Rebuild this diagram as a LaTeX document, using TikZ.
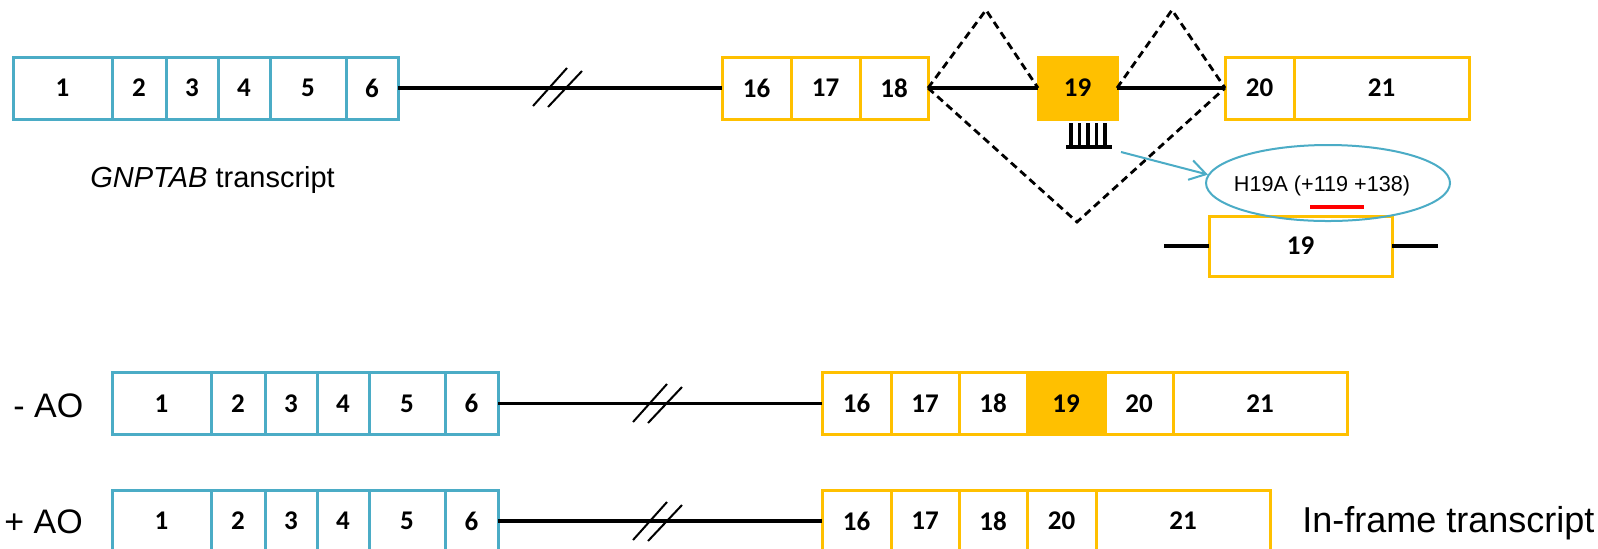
\documentclass[tikz,border=0pt]{standalone}
\usepackage{fontspec}
\setmainfont{Liberation Sans}
\newfontfamily\numfont{Carlito}
\usetikzlibrary{shapes.geometric,arrows.meta}
\definecolor{exonblue}{HTML}{4BACC6}
\definecolor{exonyellow}{HTML}{FFC000}
\definecolor{aored}{HTML}{FF0000}

\begin{document}
\begin{tikzpicture}[x=0.5pt,y=-0.5pt,
  exon/.style={draw, line width=1.5pt, fill=white, inner sep=0pt, outer sep=0pt,
    anchor=west, minimum height=31pt,
    font=\numfont\bfseries\fontsize{13.5}{13.5}\selectfont},
  blueexon/.style={exon, draw=exonblue},
  yelexon/.style={exon, draw=exonyellow},
  skipped/.style={exon, draw=exonyellow, fill=exonyellow},
  intron/.style={line width=1.7pt, black},
  breakmark/.style={line width=1pt},
  splice/.style={line width=1.4pt, dash pattern=on 3.8pt off 2.4pt},
  label/.style={inner sep=0pt, anchor=base west},
]
\clip (0,0) rectangle (1598,548);
\fill[white] (0,0) rectangle (1598,548);

% ---------- GNPTAB transcript (top) ----------
\node[blueexon, minimum width=49.5pt] (t1) at (13,88) {1};
\node[blueexon, minimum width=27pt]   (t2) at (112,88) {2};
\node[blueexon, minimum width=26pt]   (t3) at (166,88) {3};
\node[blueexon, minimum width=26pt]   (t4) at (218,88) {4};
\node[blueexon, minimum width=38pt]   (t5) at (270,88) {5};
\node[blueexon, minimum width=26pt]   (t6) at (346,88) {6};

\node[yelexon, minimum width=34.5pt] (t16) at (722,88) {16};
\node[yelexon, minimum width=34.5pt] (t17) at (791,88) {17};
\node[yelexon, minimum width=34pt]   (t18) at (860,88) {18};
\node[skipped, minimum width=39.5pt] (t19) at (1038,88) {19};
\node[yelexon, minimum width=34.5pt] (t20) at (1225,88) {20};
\node[yelexon, minimum width=87.5pt] (t21) at (1294,88) {21};

\draw[intron] (t6) -- (t16);
\draw[breakmark] (533,106) -- (567,68) (548,107) -- (582,71);
\draw[intron] (t18) -- (t19);
\draw[intron] (t19) -- (t20);

% splicing paths
\coordinate (peakA) at (986,10);
\coordinate (peakB) at (1172,10);
\coordinate (skipV) at (1077,222);
\draw[splice] (t18.east) -- (peakA) -- (t19.west);
\draw[splice] (t19.east) -- (peakB) -- (t20.west);
\draw[splice] (t18.east) -- (skipV) -- (t20.west);

\node[label, font=\fontsize{14.5}{14.5}\selectfont] (gname) at (90,187)
  {\textit{GNPTAB} transcript};

% antisense oligo bound to exon 19
\draw[line width=1.6pt] (1066,147) -- (1112,147);
\foreach \bx in {1071,1079.5,1088,1096.5,1105}
  \draw[line width=1.7pt] (\bx,123) -- (\bx,147);

% ---------- oligo target detail ----------
\node[yelexon, minimum width=91.5pt, minimum height=30pt] (d19) at (1209,246) {19};
\coordinate (d19in)  at (1164,246);
\coordinate (d19out) at (1438,246);
\draw[intron] (d19in) -- (d19);
\draw[intron] (d19) -- (d19out);

\node[draw=exonblue, line width=1pt, ellipse, inner sep=0pt,
  minimum width=122pt, minimum height=38pt] (ao) at (1328,183) {};
\node[inner sep=0pt, anchor=base, font=\fontsize{10.8}{10.8}\selectfont]
  (aotext) at (1322,191) {H19A (+119 +138)};
\draw[aored, line width=1.6pt] (1310,207) -- (1364,207);

\coordinate (aostart) at (1121,152);
\draw[exonblue, line width=1pt, -{Straight Barb[length=8pt,width=10pt]}]
  (aostart) -- (ao.176);

% ---------- - AO ----------
\node[label, font=\fontsize{17}{17}\selectfont] (minusao) at (13,417) {- AO};
\node[blueexon, minimum width=49.5pt] (m1) at (112,403.5) {1};
\node[blueexon, minimum width=27pt]   (m2) at (211,403.5) {2};
\node[blueexon, minimum width=26pt]   (m3) at (265,403.5) {3};
\node[blueexon, minimum width=26pt]   (m4) at (317,403.5) {4};
\node[blueexon, minimum width=38pt]   (m5) at (369,403.5) {5};
\node[blueexon, minimum width=26.5pt] (m6) at (445,403.5) {6};

\node[yelexon, minimum width=34.5pt] (m16) at (822,403.5) {16};
\node[yelexon, minimum width=34pt]   (m17) at (891,403.5) {17};
\node[yelexon, minimum width=34pt]   (m18) at (959,403.5) {18};
\node[skipped, minimum width=39pt]   (m19) at (1027,403.5) {19};
\node[yelexon, minimum width=34pt]   (m20) at (1105,403.5) {20};
\node[yelexon, minimum width=87pt]   (m21) at (1173,403.5) {21};

\draw[intron] (m6) -- (m16);
\draw[breakmark] (633,422) -- (667,384) (648,423) -- (682,387);

% ---------- + AO ----------
\node[label, font=\fontsize{17}{17}\selectfont] (plusao) at (4,533) {+ AO};
\node[blueexon, minimum width=49.5pt] (p1) at (112,521) {1};
\node[blueexon, minimum width=27pt]   (p2) at (211,521) {2};
\node[blueexon, minimum width=26pt]   (p3) at (265,521) {3};
\node[blueexon, minimum width=26pt]   (p4) at (317,521) {4};
\node[blueexon, minimum width=38pt]   (p5) at (369,521) {5};
\node[blueexon, minimum width=26.5pt] (p6) at (445,521) {6};

\node[yelexon, minimum width=34.5pt] (p16) at (822,521) {16};
\node[yelexon, minimum width=34pt]   (p17) at (891,521) {17};
\node[yelexon, minimum width=34pt]   (p18) at (959,521) {18};
\node[yelexon, minimum width=34.5pt] (p20) at (1027,521) {20};
\node[yelexon, minimum width=87pt]   (p21) at (1096,521) {21};

\draw[intron] (p6) -- (p16);
\draw[breakmark] (633,540) -- (667,502) (648,541) -- (682,505);

\node[label, font=\fontsize{18}{18}\selectfont] (inframe) at (1302,532)
  {In-frame transcript};
\end{tikzpicture}
\end{document}
